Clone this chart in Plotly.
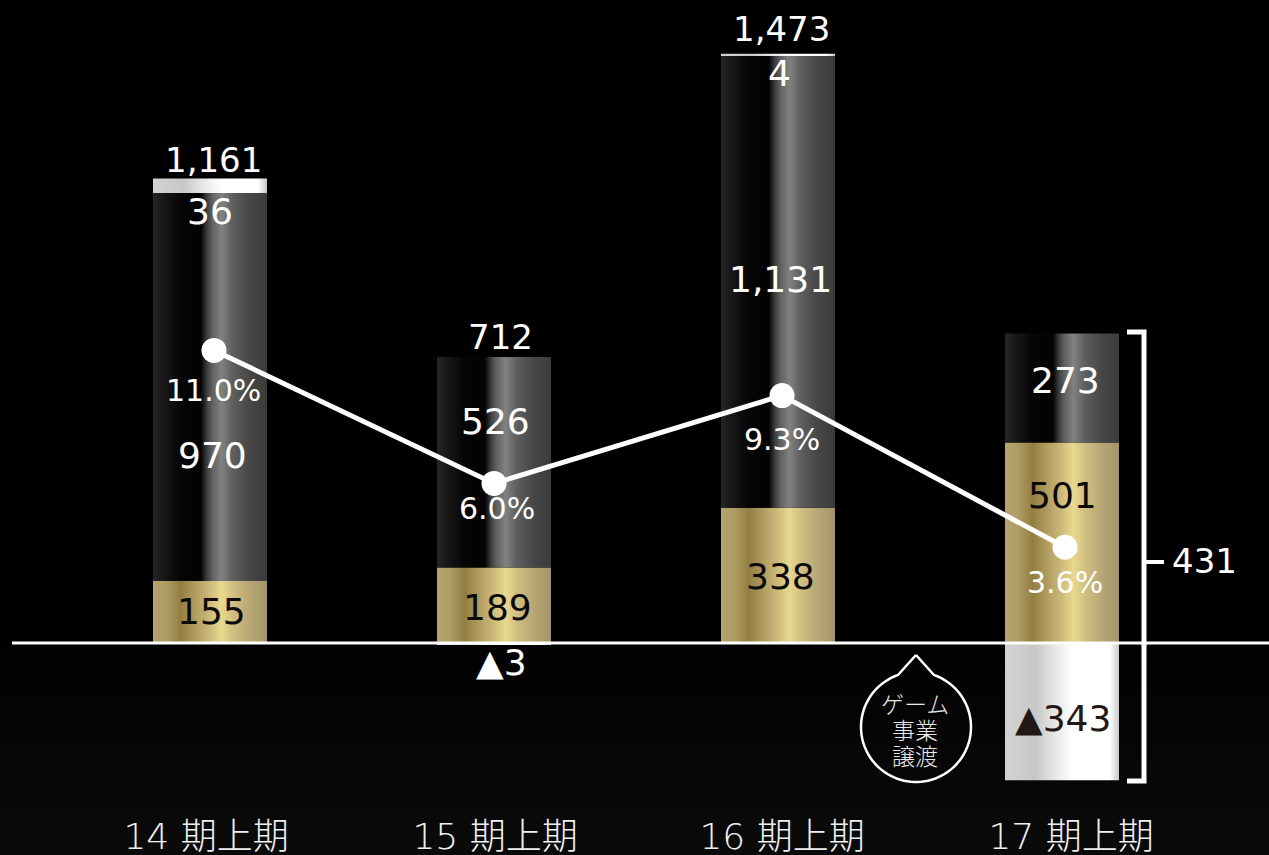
import numpy as np
import plotly.graph_objects as go

# Half-year results by period
periods = ["14 期上期", "15 期上期", "16 期上期", "17 期上期"]
gold_values = [155, 189, 338, 501]
dark_values = [970, 526, 1131, 273]
silver_values = [36, -3, 4, -343]
totals = [1161, 712, 1473, 431]
margin_pct = [11.0, 6.0, 9.3, 3.6]

# Canvas geometry, in pixels
WIDTH, HEIGHT = 1269, 855
PLOT_H = 812
ZERO_PX = 643
PX_PER_UNIT = 0.4
PX_PER_PCT = 26.6
PX_PER_CAT = 284
FIRST_CAT_PX = 210
BAR_PX = 114

SANS = "DejaVu Sans"
JP = "DejaVu Sans, 'Noto Sans CJK JP'"


def x_of(px):
    return (px - FIRST_CAT_PX) / PX_PER_CAT


def y_of(px):
    return (ZERO_PX - px) / PX_PER_UNIT


def px_paper(px):
    return px / WIDTH


def py_paper(py):
    return 1 - py / PLOT_H


def hex_ramp(stops, n):
    pos = [s[0] for s in stops]
    chans = [[int(s[1][i:i + 2], 16) for s in stops] for i in (1, 3, 5)]
    t = (np.arange(n) + 0.5) / n
    r, g, b = (np.interp(t, pos, c).round().astype(int) for c in chans)
    return [f"rgb({a},{c},{d})" for a, c, d in zip(r, g, b)]


GOLD = [(0, "#b5a471"), (0.12, "#ae9c64"), (0.24, "#937e42"), (0.36, "#ad9a5c"),
        (0.48, "#c9b677"), (0.6, "#e9d88f"), (0.72, "#cdbb80"), (0.88, "#b3a272"), (1, "#a69566")]
DARK = [(0, "#262626"), (0.1, "#161616"), (0.25, "#050505"), (0.42, "#040202"), (0.47, "#3a3a3a"),
        (0.52, "#606060"), (0.6, "#808280"), (0.7, "#5e5e5e"), (0.85, "#454645"), (1, "#3a3c3a")]
SILVER = [(0, "#d2d2d2"), (0.27, "#c6c8c6"), (0.42, "#e4e4e4"), (0.6, "#ffffff"), (0.92, "#ffffff"), (1, "#c8c8c8")]

offsets = (np.arange(BAR_PX) - (BAR_PX - 1) / 2) / PX_PER_CAT
slice_x = np.concatenate([i + offsets for i in range(len(periods))])


def stacked_layer(values, stops):
    return go.Bar(
        x=slice_x,
        y=np.repeat(values, BAR_PX),
        width=1 / PX_PER_CAT,
        marker=dict(color=hex_ramp(stops, BAR_PX) * len(values), line=dict(width=0)),
        hoverinfo="skip",
        showlegend=False,
    )


fig = go.Figure()
fig.add_trace(stacked_layer(gold_values, GOLD))
fig.add_trace(stacked_layer(dark_values, DARK))
fig.add_trace(stacked_layer(silver_values, SILVER))

# Margin line, nudged slightly right of the bar centres
line_shift_px = [4, 0, 4, 3]
fig.add_trace(go.Scatter(
    x=[i + s / PX_PER_CAT for i, s in enumerate(line_shift_px)],
    y=margin_pct,
    yaxis="y2",
    mode="lines+markers",
    line=dict(color="white", width=5),
    marker=dict(color="white", size=25),
    hoverinfo="skip",
    showlegend=False,
))

shapes = []
# Background deepens very slightly below the baseline
for k, shade in enumerate([2, 3, 4, 5, 6, 7, 8, 9, 10]):
    top = 645 + k * 23.5
    shapes.append(dict(type="rect", layer="below", xref="paper", yref="paper",
                       x0=0, x1=1, y0=py_paper(top), y1=py_paper(top + 24 if k < 8 else HEIGHT),
                       fillcolor=f"rgb({shade},{shade},{shade})", line_width=0))
# Zero baseline
shapes.append(dict(type="line", layer="above", xref="paper", yref="y",
                   x0=px_paper(12), x1=1, y0=0, y1=0, line=dict(color="white", width=3)))


def polyline(points):
    head, *rest = points
    d = f"M{px_paper(head[0]):.5f},{py_paper(head[1]):.5f}"
    return d + "".join(f"L{px_paper(a):.5f},{py_paper(b):.5f}" for a, b in rest)


# Bracket spanning the 17 period stack, with its lead to the net figure
shapes.append(dict(type="path", xref="paper", yref="paper",
                   path=polyline([(1127, 332), (1144, 332), (1144, 781), (1127, 781)]),
                   line=dict(color="white", width=5)))
shapes.append(dict(type="line", xref="paper", yref="paper",
                   x0=px_paper(1146), x1=px_paper(1164), y0=py_paper(562), y1=py_paper(562),
                   line=dict(color="white", width=4)))

# Speech bubble pointing at the baseline
cx, cy, r = 916, 727, 55
half_base = 18
start = -np.pi / 2 + np.arcsin(half_base / r)
theta = np.linspace(start, start + 2 * np.pi - 2 * np.arcsin(half_base / r), 90)
arc = [(cx + r * np.cos(t), cy + r * np.sin(t)) for t in theta]
shapes.append(dict(type="path", xref="paper", yref="paper",
                   path=polyline([(cx, 655)] + arc + [(cx, 655)]),
                   line=dict(color="white", width=2.5)))

annotations = []


def label(text, px, py, size=36, color="white", family=SANS, weight=400):
    font = dict(family=family, size=size, color=color, weight=weight)
    annotations.append(dict(text=text, xref="x", yref="y", x=x_of(px), y=y_of(py),
                            showarrow=False, xanchor="center", yanchor="middle", font=font))


def fmt(v):
    return f"▲{abs(v):,}" if v < 0 else f"{v:,}"


BLACK = "#0c0a0a"
total_px = [(213, 160), (500, 337), (781, 29), (1204, 561)]
gold_px = [(211, 611), (497, 607), (780, 576), (1062, 495)]
dark_px = [(212, 455), (495, 421), (780, 279), (1065, 380)]
silver_px = [(210, 211), (501, 662), (779, 73), (1063, 718)]
pct_px = [(213, 390), (497, 508), (782, 439), (1065, 582)]

for i in range(len(periods)):
    label(fmt(totals[i]), *total_px[i], size=34)
    label(fmt(gold_values[i]), *gold_px[i], color=BLACK)
    label(fmt(dark_values[i]), *dark_px[i])
    label(fmt(silver_values[i]), *silver_px[i], color="#231815" if silver_values[i] < -100 else "white")
    label(f"{margin_pct[i]:.1f}%", *pct_px[i], size=30)

for text, py in [("ゲーム", 703), ("事業", 729), ("譲渡", 755)]:
    label(text, 915, py, size=23, color="#e8e8e8", family="'Noto Sans CJK JP'", weight=300)

tick_shift_px = [-4, 1, 4, 9]

fig.update_layout(
    width=WIDTH,
    height=HEIGHT,
    autosize=False,
    barmode="relative",
    margin=dict(l=0, r=0, t=0, b=HEIGHT - PLOT_H, pad=0),
    paper_bgcolor="#000000",
    plot_bgcolor="rgba(0,0,0,0)",
    xaxis=dict(
        automargin=False,
        range=[x_of(0), x_of(WIDTH)],
        tickmode="array",
        tickvals=[i + s / PX_PER_CAT for i, s in enumerate(tick_shift_px)],
        ticktext=periods,
        tickfont=dict(family=JP, size=36, color="#f0f0f0", weight=300),
        ticks="",
        showgrid=False,
        zeroline=False,
        showline=False,
    ),
    yaxis=dict(
        automargin=False,
        range=[(ZERO_PX - PLOT_H) / PX_PER_UNIT, ZERO_PX / PX_PER_UNIT],
        visible=False,
    ),
    yaxis2=dict(
        range=[(ZERO_PX - PLOT_H) / PX_PER_PCT, ZERO_PX / PX_PER_PCT],
        overlaying="y",
        visible=False,
    ),
    shapes=shapes,
    annotations=annotations,
)

fig.write_html("out.html", config=dict(displayModeBar=False))
